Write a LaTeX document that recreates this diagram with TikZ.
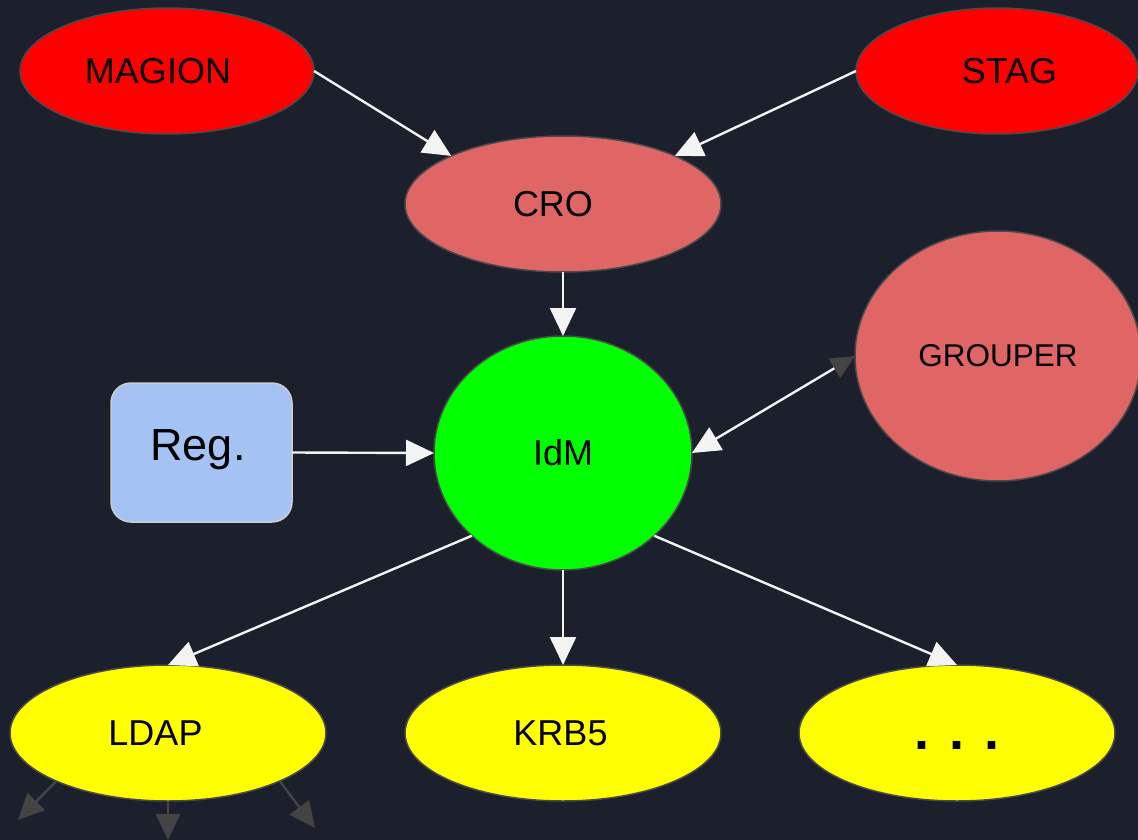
\documentclass[tikz,border=0pt]{standalone}
\usepackage{fontspec}
\setmainfont{Liberation Sans}
\usetikzlibrary{shapes.geometric,arrows.meta}
\definecolor{bg}{HTML}{1B202C}
\definecolor{redA}{HTML}{FF0000}
\definecolor{croRed}{HTML}{E06666}
\definecolor{idmGreen}{HTML}{00FF00}
\definecolor{outYellow}{HTML}{FFFF00}
\definecolor{regBlue}{HTML}{A4C2F4}
\definecolor{edgeGray}{HTML}{4A4A4A}
\definecolor{regEdge}{HTML}{CCCCCC}
\definecolor{arrowWhite}{HTML}{F3F3F3}
\definecolor{darkArrow}{HTML}{444444}
\begin{document}
\begin{tikzpicture}[x=1pt,y=-1pt,
  oval/.style={ellipse, draw=edgeGray, line width=1.5pt, inner sep=0pt, outer sep=0pt},
  lbl/.style={font=\fontsize{36}{40}\selectfont, text=black, inner sep=0pt},
  conn/.style={draw=arrowWhite, line width=2.4pt, -{Triangle[length=28pt,width=26pt]}},
  dconn/.style={draw=darkArrow, line width=2.4pt, -{Triangle[length=26pt,width=24pt]}}]
\fill[bg] (0,0) rectangle (1138,840);
\useasboundingbox (0,0) rectangle (1138,840);

\node[oval, fill=redA, minimum width=294pt, minimum height=126pt,
  label={[lbl,xshift=-9pt]center:MAGION}] (magion) at (167,71) {};
\node[oval, fill=redA, minimum width=282pt, minimum height=126pt,
  label={[lbl,xshift=12.5pt]center:STAG}] (stag) at (997,71) {};
\node[oval, fill=croRed, minimum width=316pt, minimum height=136pt,
  label={[lbl,xshift=-10pt]center:CRO}] (cro) at (563,204) {};
\node[oval, fill=croRed, minimum width=286pt, minimum height=250pt,
  label={[lbl,font=\fontsize{31.5}{36}\selectfont]center:GROUPER}] (grouper) at (998,356) {};
\node[oval, fill=idmGreen, minimum width=258pt, minimum height=234pt,
  label={[lbl]center:IdM}] (idm) at (563,453) {};
\node[draw=regEdge, fill=regBlue, line width=1.5pt, rounded corners=20pt,
  minimum width=181pt, minimum height=139pt, inner sep=0pt, outer sep=0pt,
  label={[lbl,font=\fontsize{45}{50}\selectfont,xshift=-3.5pt,yshift=2.5pt]center:Reg.}] (reg) at (201.5,452.5) {};
\node[oval, fill=outYellow, minimum width=316pt, minimum height=136pt,
  label={[lbl,xshift=-12.5pt]center:LDAP}] (ldap) at (168,733) {};
\node[oval, fill=outYellow, minimum width=316pt, minimum height=136pt,
  label={[lbl,xshift=-2.5pt]center:KRB5}] (krb) at (563,733) {};
\node[oval, fill=outYellow, minimum width=316pt, minimum height=136pt,
  label={[lbl,font=\bfseries\fontsize{54}{60}\selectfont,yshift=-12.5pt]center:. . .}] (more) at (957,733) {};

\coordinate (g1) at (18,820);
\coordinate (g2) at (168,840);
\coordinate (g3) at (315,828);

\draw[conn] (magion.east) -- (cro.north west);
\draw[conn] (stag.west) -- (cro.north east);
\draw[conn] (cro.south) -- (idm.north);
\draw[conn] (reg.east) -- (idm.west);
\draw[draw=arrowWhite, line width=2.4pt,
  {Triangle[length=24pt,width=22pt,color=darkArrow]}-{Triangle[length=28pt,width=26pt]}]
  (grouper.west) -- (idm.east);
\draw[conn] (idm.south west) -- (ldap.north);
\draw[conn] (idm.south) -- (krb.north);
\draw[conn] (idm.south east) -- (more.north);

\draw[dconn] (ldap.south west) -- (g1);
\draw[dconn] (ldap.south) -- (g2);
\draw[dconn] (ldap.south east) -- (g3);
\end{tikzpicture}
\end{document}
